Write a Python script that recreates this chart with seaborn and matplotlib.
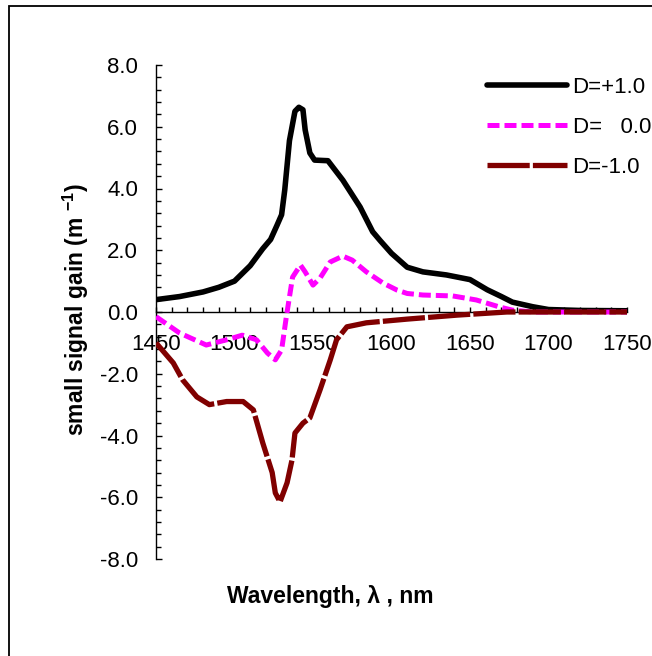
import matplotlib
matplotlib.use("Agg")
import matplotlib.pyplot as plt
import seaborn as sns
import pandas as pd
from matplotlib.patches import Rectangle
from matplotlib.ticker import MultipleLocator

sns.set_theme(style="white")
plt.rcParams['font.family'] = ['Liberation Sans', 'DejaVu Sans']
plt.rcParams['mathtext.fontset'] = 'custom'
plt.rcParams['mathtext.rm'] = 'Liberation Sans'
plt.rcParams['mathtext.bf'] = 'Liberation Sans:bold'

# D = +1.0
wl_p = [1450, 1465, 1480, 1490, 1500, 1510, 1518, 1523, 1527, 1530, 1532, 1535, 1538.5, 1541,
        1543.6, 1545, 1548, 1551, 1559.5, 1569, 1580, 1588, 1593, 1600, 1610, 1620, 1635, 1650,
        1661, 1670, 1677, 1690, 1700, 1720, 1750]
g_p = [0.4, 0.5, 0.65, 0.8, 1.0, 1.5, 2.05, 2.35, 2.8, 3.15, 3.95, 5.55, 6.5, 6.63,
       6.55, 5.9, 5.15, 4.92, 4.9, 4.27, 3.4, 2.6, 2.3, 1.9, 1.45, 1.3, 1.2, 1.05,
       0.72, 0.5, 0.32, 0.17, 0.08, 0.05, 0.04]

# D = 0.0
wl_0 = [1450, 1465, 1482, 1495, 1505, 1514, 1521, 1526, 1530, 1533, 1537, 1542, 1545, 1550,
        1554.5, 1561, 1569, 1575, 1584, 1594.5, 1603.5, 1610, 1620, 1639, 1654, 1669, 1677,
        1690, 1750]
g_0 = [-0.15, -0.68, -1.07, -0.9, -0.75, -0.9, -1.33, -1.55, -1.23, -0.16, 1.13, 1.52, 1.3, 0.87,
       1.1, 1.62, 1.81, 1.68, 1.3, 0.94, 0.71, 0.6, 0.55, 0.52, 0.39, 0.16, 0.06,
       0.0, 0.0]

# D = -1.0
wl_m = [1450, 1461, 1467, 1476, 1484, 1495, 1505.5, 1512, 1518, 1524, 1526, 1529, 1533.5,
        1536.6, 1538.5, 1543.6, 1548, 1554.5, 1561, 1565, 1571.6, 1584, 1610, 1642, 1673.5,
        1700, 1750]
g_m = [-1.0, -1.65, -2.2, -2.75, -3.0, -2.9, -2.9, -3.17, -4.24, -5.2, -5.86, -6.15, -5.53,
       -4.8, -3.92, -3.6, -3.43, -2.52, -1.55, -0.9, -0.48, -0.35, -0.23, -0.1, 0.0,
       0.0, 0.0]

labels = ["D=+1.0", "D=   0.0", "D=-1.0"]
colors = ["#000000", "#FF00FF", "#800000"]

W, H = 652, 656
fig = plt.figure(figsize=(W / 100, H / 100), dpi=100)
fig.patch.set_facecolor("white")
ax = fig.add_axes([156 / W, 1 - 559 / H, 471 / W, 494 / H])
ax.set_facecolor("white")

df_p = pd.DataFrame({"wl": wl_p, "g": g_p})
df_0 = pd.DataFrame({"wl": wl_0, "g": g_0})
df_m = pd.DataFrame({"wl": wl_m, "g": g_m})

sns.lineplot(data=df_p, x="wl", y="g", ax=ax, sort=False, estimator=None, color=colors[0],
             lw=4.0, solid_capstyle="round", solid_joinstyle="round", label=labels[0], zorder=3)
sns.lineplot(data=df_0, x="wl", y="g", ax=ax, sort=False, estimator=None, color=colors[1],
             lw=3.6, label=labels[1], zorder=4)
sns.lineplot(data=df_m, x="wl", y="g", ax=ax, sort=False, estimator=None, color=colors[2],
             lw=3.8, label=labels[2], zorder=5)
lines = ax.get_lines()
lines[1].set_dashes([2.4, 1.0])
lines[1].set_dash_capstyle("butt")
lines[2].set_dashes([8, 0.6])
lines[2].set_dash_capstyle("butt")

ax.set_xlim(1450, 1750)
ax.set_ylim(-8, 8)
ax.spines["top"].set_visible(False)
ax.spines["right"].set_visible(False)
ax.spines["bottom"].set_position(("data", 0))
for s in ["left", "bottom"]:
    ax.spines[s].set_color("black")
    ax.spines[s].set_linewidth(1.0)

ax.xaxis.set_major_locator(MultipleLocator(50))
ax.xaxis.set_minor_locator(MultipleLocator(10))
ax.yaxis.set_major_locator(MultipleLocator(2))
ax.yaxis.set_minor_locator(MultipleLocator(0.4))
ax.set_yticks([-8, -6, -4, -2, 0, 2, 4, 6, 8])
ax.set_yticklabels(["-8.0", "-6.0", "-4.0", "-2.0", "0.0", "2.0", "4.0", "6.0", "8.0"])
ax.set_xticks([1450, 1500, 1550, 1600, 1650, 1700, 1750])
ax.set_xticklabels(["1450", "1500", "1550", "1600", "1650", "1700", "1750"])
ax.tick_params(axis="x", which="both", direction="in", length=3.5, width=1, color="black",
               labelsize=16, pad=16, bottom=True)
ax.tick_params(axis="y", which="major", direction="in", length=4.5, width=1, color="black",
               labelsize=16, pad=13, left=True)
ax.tick_params(axis="y", which="minor", direction="in", length=3.5, width=1, color="black", left=True)
for t in ax.get_xticklabels() + ax.get_yticklabels():
    t.set_color("black")

ax.set_xlabel("")
ax.set_ylabel("")
fig.text(330 / W, 1 - 596 / H, "Wavelength, λ , nm", ha="center", va="center",
         fontsize=16.5, fontweight="bold", color="black")
fig.text(76 / W, 1 - 310 / H, r"small signal gain (m $^{\mathbf{-1}}$)", ha="center", va="center",
         rotation=90, fontsize=16.5, fontweight="bold", color="black")

leg = ax.legend(loc="upper left", bbox_to_anchor=(487 / W, 1 - 77 / H),
                bbox_transform=fig.transFigure, frameon=False, fontsize=16,
                handlelength=3.6, handletextpad=0.25, labelspacing=0.85,
                borderpad=0, borderaxespad=0)
for t in leg.get_texts():
    t.set_color("black")

fig.patches.append(Rectangle((9 / W, -0.1), 1.2, 1 - 6 / H + 0.1, transform=fig.transFigure,
                             fill=False, edgecolor="black", lw=1.3, figure=fig))

fig.savefig("out.png", dpi=100, facecolor="white")
